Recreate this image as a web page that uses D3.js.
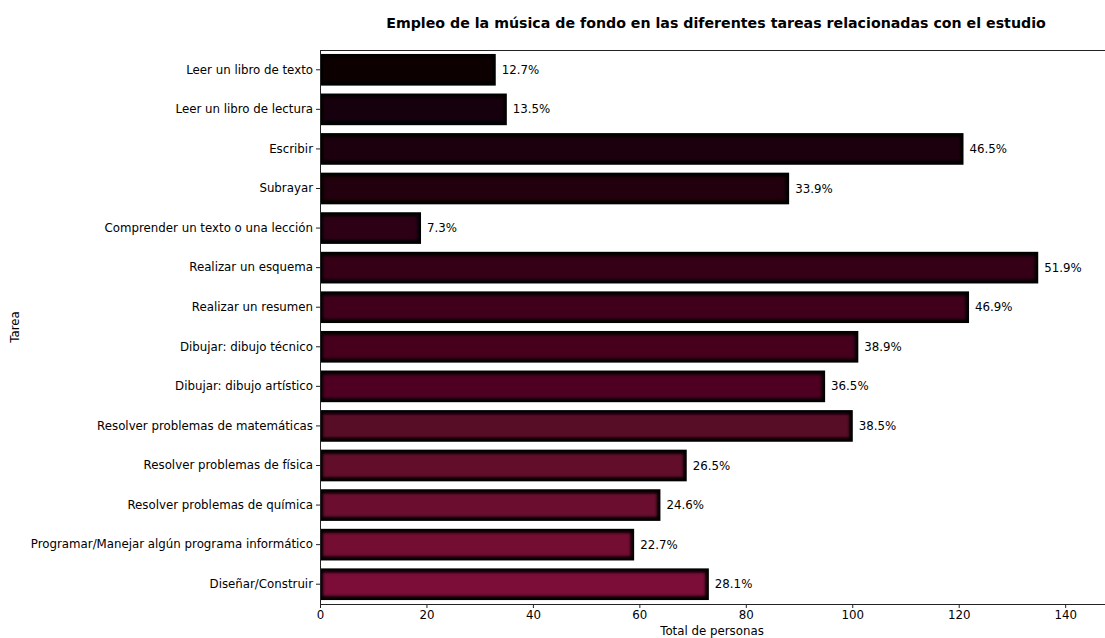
<!DOCTYPE html>
<html>
<head>
<meta charset="utf-8">
<script src="https://cdn.jsdelivr.net/npm/d3@7"></script>
<style>
  html, body { margin: 0; padding: 0; background: #fff; }
  svg { display: block; font-family: "DejaVu Sans", sans-serif; }
</style>
</head>
<body>
<svg id="chart" width="1105" height="638"></svg>
<script>
// Tasks (top to bottom) and share of respondents using background music for each
const tasks = [
  "Leer un libro de texto",
  "Leer un libro de lectura",
  "Escribir",
  "Subrayar",
  "Comprender un texto o una lección",
  "Realizar un esquema",
  "Realizar un resumen",
  "Dibujar: dibujo técnico",
  "Dibujar: dibujo artístico",
  "Resolver problemas de matemáticas",
  "Resolver problemas de física",
  "Resolver problemas de química",
  "Programar/Manejar algún programa informático",
  "Diseñar/Construir"
];
const percents = [12.7, 13.5, 46.5, 33.9, 7.3, 51.9, 46.9, 38.9, 36.5, 38.5, 26.5, 24.6, 22.7, 28.1];
const totalRespondents = 260;
const xTicks = [0, 20, 40, 60, 80, 100, 120, 140];

const titleText = "Empleo de la música de fondo en las diferentes tareas relacionadas con el estudio";
const xLabel = "Total de personas";
const yLabel = "Tarea";

const FS = 11.8;
const svg = d3.select("#chart");
const m = { left: 320, top: 50, right: 1112, bottom: 604 };

const x = d3.scaleLinear().domain([0, 148.8]).range([m.left, m.right]);
const y = d3.scaleBand().domain(tasks).range([m.top, m.bottom]).paddingInner(0.2).paddingOuter(0.1);
const color = d3.scaleLinear().domain([0, tasks.length - 1])
  .range(["#0a0004", "#7c0a37"]).interpolate(d3.interpolateRgb);

// Soft inner edge of each bar
const defs = svg.append("defs");
defs.append("filter").attr("id", "soft")
  .attr("x", "-5%").attr("y", "-20%").attr("width", "110%").attr("height", "140%")
  .append("feGaussianBlur").attr("stdDeviation", 1.7);
defs.append("clipPath").attr("id", "plotclip")
  .append("rect").attr("x", m.left).attr("y", m.top)
  .attr("width", m.right - m.left).attr("height", m.bottom - m.top);

const rows = tasks.map((t, i) => ({ task: t, pct: percents[i], count: percents[i] / 100 * totalRespondents, i }));

const bars = svg.append("g").attr("clip-path", "url(#plotclip)");
const g = bars.selectAll("g.bar").data(rows).join("g").attr("class", "bar");
g.append("rect")
  .attr("x", x(0) - 1.5)
  .attr("y", d => y(d.task))
  .attr("width", d => x(d.count) - x(0) + 1.5)
  .attr("height", y.bandwidth())
  .attr("fill", "#000");
g.append("rect")
  .attr("x", x(0) + 3)
  .attr("y", d => y(d.task) + 4)
  .attr("width", d => Math.max(0, x(d.count) - x(0) - 6.5))
  .attr("height", y.bandwidth() - 8)
  .attr("fill", d => color(d.i))
  .attr("filter", "url(#soft)");

// Percent labels at the end of each bar
svg.append("g").selectAll("text").data(rows).join("text")
  .attr("x", d => x(d.count) + 6)
  .attr("y", d => y(d.task) + y.bandwidth() / 2)
  .attr("dy", "0.35em")
  .attr("font-size", FS)
  .attr("fill", "#000")
  .text(d => d.pct.toFixed(1) + "%");

// Axes
const xAxis = svg.append("g").attr("transform", `translate(0,${m.bottom})`)
  .call(d3.axisBottom(x).tickValues(xTicks).tickSize(4).tickPadding(3).tickFormat(d3.format("d")));
const yAxis = svg.append("g").attr("transform", `translate(${m.left},0)`)
  .call(d3.axisLeft(y).tickSize(4).tickPadding(3));
[xAxis, yAxis].forEach(a => {
  a.selectAll("text").attr("font-size", FS).attr("font-family", "DejaVu Sans, sans-serif").attr("fill", "#000");
  a.selectAll("line").attr("stroke", "#222");
  a.select(".domain").remove();
});

// Spines: left, bottom and top
const spines = svg.append("g").attr("stroke", "#222").attr("stroke-width", 1).attr("fill", "none");
spines.append("line").attr("x1", m.left + 0.5).attr("x2", m.left + 0.5).attr("y1", m.top).attr("y2", m.bottom);
spines.append("line").attr("x1", m.left).attr("x2", m.right).attr("y1", m.bottom + 0.5).attr("y2", m.bottom + 0.5);
spines.append("line").attr("x1", m.left).attr("x2", m.right).attr("y1", m.top + 0.5).attr("y2", m.top + 0.5);

// Titles
svg.append("text")
  .attr("x", (m.left + m.right) / 2).attr("y", 28)
  .attr("text-anchor", "middle").attr("font-size", 14.2).attr("font-weight", "bold")
  .text(titleText);
svg.append("text")
  .attr("x", (m.left + m.right) / 2 - 4).attr("y", 635)
  .attr("text-anchor", "middle").attr("font-size", FS)
  .text(xLabel);
svg.append("text")
  .attr("transform", `translate(19,${(m.top + m.bottom) / 2}) rotate(-90)`)
  .attr("text-anchor", "middle").attr("font-size", FS)
  .text(yLabel);
</script>
</body>
</html>
